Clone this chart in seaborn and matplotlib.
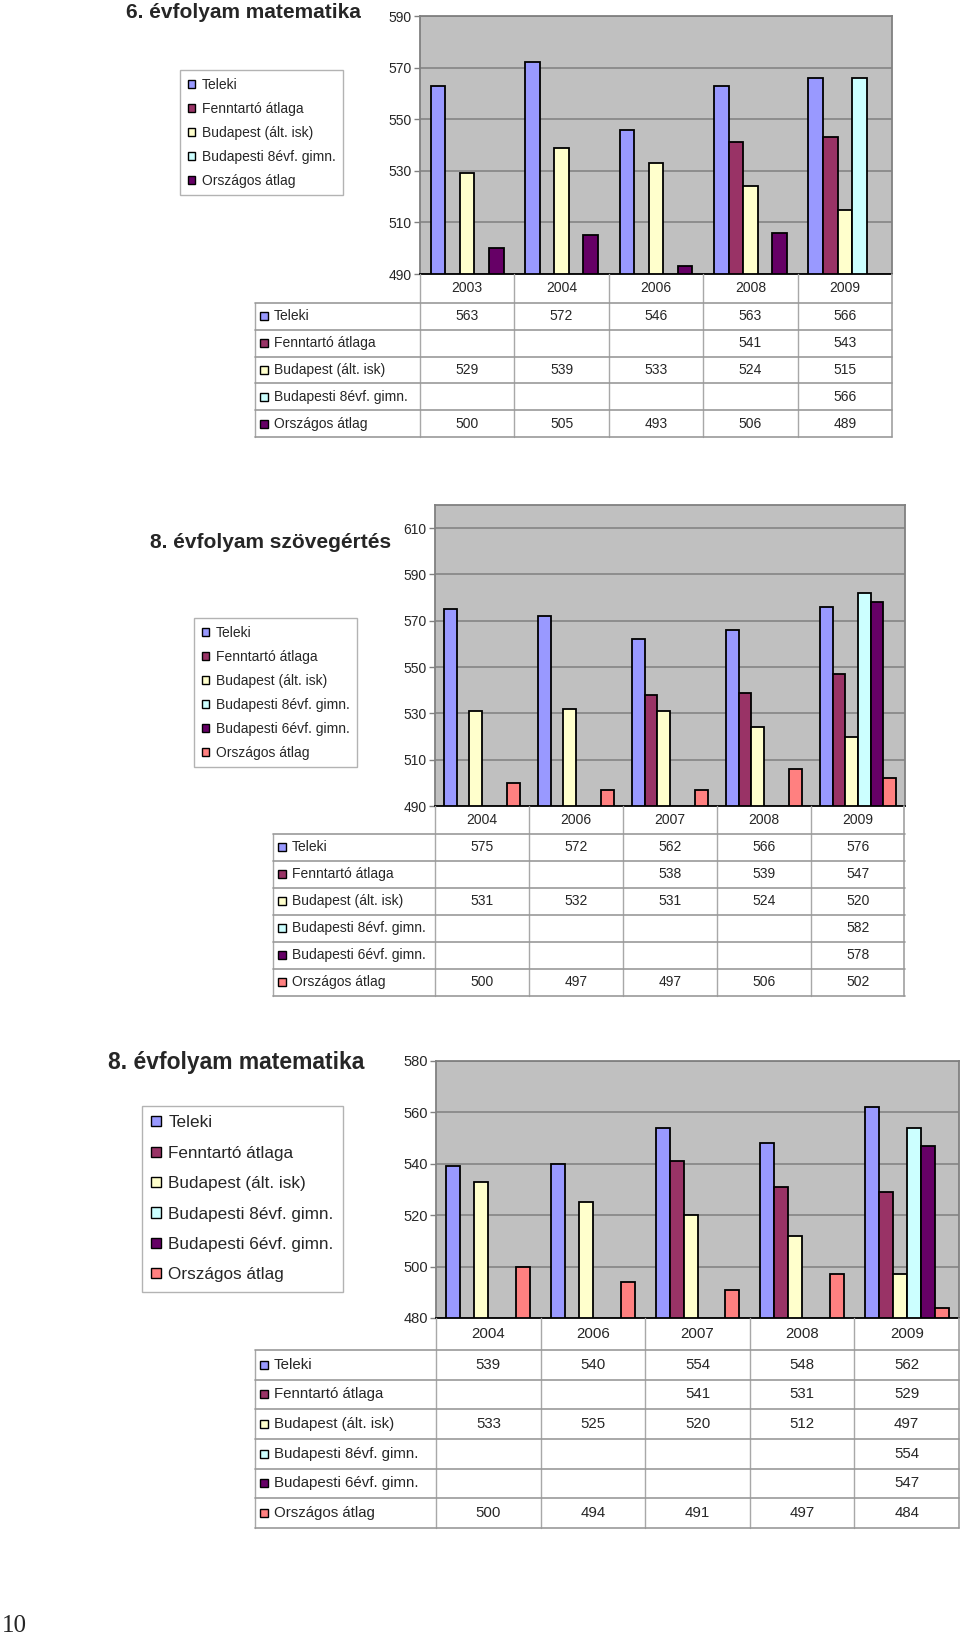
import numpy as np
import pandas as pd
import matplotlib
matplotlib.use('Agg')
import matplotlib.pyplot as plt
import matplotlib.patches as mpatches
import matplotlib.transforms as mtrans
import seaborn as sns

nan = np.nan

# series names and colours (classic Excel palette)
s_teleki = 'Teleki'
s_fennt = 'Fenntartó átlaga'
s_bp = 'Budapest (ált. isk)'
s_g8 = 'Budapesti 8évf. gimn.'
s_g6 = 'Budapesti 6évf. gimn.'
s_orsz = 'Országos átlag'

# 6. évfolyam matematika
years_6mat = ['2003', '2004', '2006', '2008', '2009']
teleki_6mat = [563, 572, 546, 563, 566]
fennt_6mat = [nan, nan, nan, 541, 543]
bp_6mat = [529, 539, 533, 524, 515]
g8_6mat = [nan, nan, nan, nan, 566]
orsz_6mat = [500, 505, 493, 506, 489]

# 8. évfolyam szövegértés
years_8szov = ['2004', '2006', '2007', '2008', '2009']
teleki_8szov = [575, 572, 562, 566, 576]
fennt_8szov = [nan, nan, 538, 539, 547]
bp_8szov = [531, 532, 531, 524, 520]
g8_8szov = [nan, nan, nan, nan, 582]
g6_8szov = [nan, nan, nan, nan, 578]
orsz_8szov = [500, 497, 497, 506, 502]

# 8. évfolyam matematika
years_8mat = ['2004', '2006', '2007', '2008', '2009']
teleki_8mat = [539, 540, 554, 548, 562]
fennt_8mat = [nan, nan, 541, 531, 529]
bp_8mat = [533, 525, 520, 512, 497]
g8_8mat = [nan, nan, nan, nan, 554]
g6_8mat = [nan, nan, nan, nan, 547]
orsz_8mat = [500, 494, 491, 497, 484]

W, H = 960, 1639
sns.set_style('white')
plt.rcParams['font.family'] = ['Liberation Sans', 'DejaVu Sans']

fig = plt.figure(figsize=(W / 100, H / 100), dpi=100)


def px_axes(l, t, r, b):
    return fig.add_axes([l / W, 1 - b / H, (r - l) / W, (b - t) / H])


def draw_chart(title, title_pos, title_size, years, series, colors, ylim, yticks,
               plot_box, table_left, header_bottom, table_bottom,
               legend_pos, font_size, table_font, legend_font, legend_spacing):
    pl, pt, pr, pb = plot_box
    names = [s[0] for s in series]
    rows = []
    for name, vals in series:
        for y, v in zip(years, vals):
            if not np.isnan(v):
                rows.append({'year': y, 'score': v, 'series': name})
    df = pd.DataFrame(rows)

    ax = px_axes(pl, pt, pr, pb)
    n = len(names)
    sns.barplot(data=df, x='year', y='score', hue='series', order=years,
                hue_order=names, palette=colors, saturation=1,
                width=n / (n + 1.5), edgecolor='black', linewidth=1.3,
                errorbar=None, legend=False, ax=ax)
    ax.set_xlim(-0.5, len(years) - 0.5)
    ax.set_ylim(*ylim)
    ax.set_yticks(yticks)
    ax.set_facecolor('#C0C0C0')
    ax.set_axisbelow(True)
    ax.grid(axis='y', color='#808080', linewidth=1.1)
    ax.set_xlabel('')
    ax.set_ylabel('')
    ax.tick_params(axis='x', length=0, labelbottom=False)
    ax.tick_params(axis='y', length=4, width=1, color='#808080', pad=2,
                   labelsize=font_size, left=True)
    for sp in ax.spines.values():
        sp.set_color('#808080')
        sp.set_linewidth(1.3)
    ax.spines['bottom'].set_color('black')

    # data table under the plot
    tax = px_axes(table_left, pb, pr, table_bottom)
    tax.set_xlim(table_left, pr)
    tax.set_ylim(table_bottom, pb)
    tax.axis('off')
    blend = mtrans.blended_transform_factory(ax.transData, tax.transData)
    line_c = '#A8A8A8'
    nrow = len(series)
    rh = (table_bottom - header_bottom) / nrow
    for i in range(1, len(years)):
        tax.plot([i - 0.5, i - 0.5], [pb, table_bottom], color=line_c, lw=1,
                 transform=blend, clip_on=False)
    tax.plot([-0.5, -0.5], [pb, table_bottom], color=line_c, lw=1,
             transform=blend, clip_on=False)
    tax.plot([pr - 0.5, pr - 0.5], [pb, table_bottom], color=line_c, lw=1.3,
             clip_on=False)
    tax.plot([table_left, table_left], [header_bottom, table_bottom],
             color=line_c, lw=1, clip_on=False)
    for k in range(nrow + 1):
        yy = header_bottom + k * rh
        tax.plot([table_left, pr], [yy, yy], color='#999999', lw=1.2,
                 clip_on=False)
    for i, y in enumerate(years):
        tax.text(i, (pb + header_bottom) / 2, y, transform=blend,
                 ha='center', va='center', fontsize=table_font)
    for k, (name, vals) in enumerate(series):
        yc = header_bottom + (k + 0.5) * rh
        tax.plot([table_left + 9], [yc], marker='s', ms=5.5,
                 mfc=colors[name], mec='black', mew=1, clip_on=False)
        tax.text(table_left + 19, yc, name, ha='left', va='center',
                 fontsize=table_font)
        for i, v in enumerate(vals):
            if not np.isnan(v):
                tax.text(i, yc, f'{v:.0f}', transform=blend, ha='center',
                         va='center', fontsize=table_font)

    handles = [mpatches.Patch(facecolor=colors[nm], edgecolor='black',
                              linewidth=1.0, label=nm) for nm in names]
    leg = ax.legend(handles=handles, loc='upper left',
                    bbox_to_anchor=(legend_pos[0] / W, 1 - legend_pos[1] / H),
                    bbox_transform=fig.transFigure, frameon=True,
                    fancybox=False, edgecolor='#A0A0A0', fontsize=legend_font,
                    handlelength=0.55, handleheight=0.55, handletextpad=0.45,
                    labelspacing=legend_spacing, borderpad=0.55,
                    borderaxespad=0)
    leg.get_frame().set_linewidth(1.0)

    fig.text(title_pos[0] / W, 1 - title_pos[1] / H, title, ha='left',
             va='center', fontsize=title_size, fontweight='bold')


colors_a = {s_teleki: '#9999FF', s_fennt: '#993366', s_bp: '#FFFFCC',
            s_g8: '#CCFFFF', s_orsz: '#660066'}
colors_b = {s_teleki: '#9999FF', s_fennt: '#993366', s_bp: '#FFFFCC',
            s_g8: '#CCFFFF', s_g6: '#660066', s_orsz: '#FF8080'}

draw_chart('6. évfolyam matematika', (126, 13), 15, years_6mat,
           [(s_teleki, teleki_6mat), (s_fennt, fennt_6mat), (s_bp, bp_6mat),
            (s_g8, g8_6mat), (s_orsz, orsz_6mat)],
           colors_a, (490, 590), range(490, 591, 20),
           (420, 16, 892, 274), 255, 303, 437, (180, 70), 10, 10, 10, 0.72)

draw_chart('8. évfolyam szövegértés', (150, 543), 15, years_8szov,
           [(s_teleki, teleki_8szov), (s_fennt, fennt_8szov), (s_bp, bp_8szov),
            (s_g8, g8_8szov), (s_g6, g6_8szov), (s_orsz, orsz_8szov)],
           colors_b, (490, 620), range(490, 611, 20),
           (435, 505, 905, 806), 273, 834, 996, (194, 618), 10, 10, 10, 0.72)

draw_chart('8. évfolyam matematika', (108, 1063), 16.5, years_8mat,
           [(s_teleki, teleki_8mat), (s_fennt, fennt_8mat), (s_bp, bp_8mat),
            (s_g8, g8_8mat), (s_g6, g6_8mat), (s_orsz, orsz_8mat)],
           colors_b, (480, 580), range(480, 581, 20),
           (436, 1061, 959, 1318), 255, 1350, 1528, (142, 1106), 10.5, 10.8,
           12.3, 0.9)

fig.text(2 / W, 1 - 1626 / H, '10', ha='left', va='center', fontsize=18,
         family=['Liberation Serif', 'DejaVu Serif'])

fig.savefig('out.png', dpi=100)
